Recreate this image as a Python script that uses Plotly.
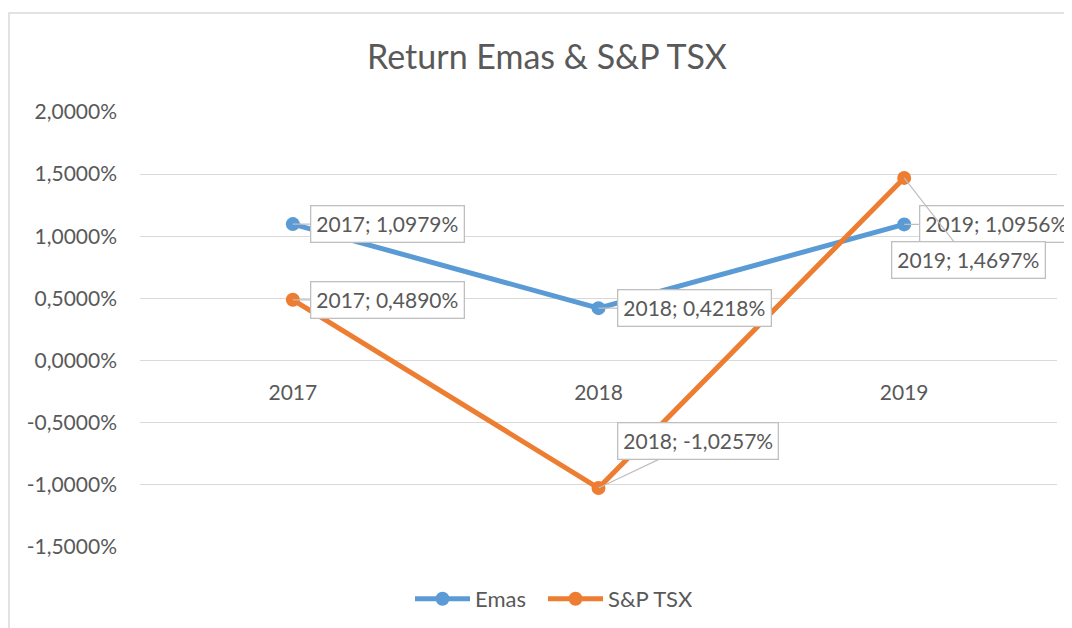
import plotly.graph_objects as go

# ---- data ----
years = ["2017", "2018", "2019"]
emas = [1.0979, 0.4218, 1.0956]
sp_tsx = [0.4890, -1.0257, 1.4697]
series_names = ["Emas", "S&P TSX"]
y_tick_vals = [2.0, 1.5, 1.0, 0.5, 0.0, -0.5, -1.0, -1.5]
y_tick_text = ["2,0000%", "1,5000%", "1,0000%", "0,5000%", "0,0000%", "-0,5000%", "-1,0000%", "-1,5000%"]
title_text = "Return Emas & S&P TSX"

# ---- styles ----
FONT = "Lato"
TXT = "#595959"
GRID = "#D9D9D9"
colors = ["#5B9BD5", "#ED7D31"]
legend_ids = ["legend", "legend2"]
OFF = 8  # page body margin compensation
# label offsets (pixels) of data-label boxes relative to their points
label_offsets = {
    "Emas": [(95, 0), (96, 0), (92, 0)],
    "S&P TSX": [(95, 0), (99, -47), (64, 82)],
}

fig = go.Figure()
for name, vals, col, lg in zip(series_names, [emas, sp_tsx], colors, legend_ids):
    fig.add_trace(go.Scatter(
        x=years, y=vals, name=name, mode="lines+markers",
        line=dict(color=col, width=5),
        marker=dict(color=col, size=14),
        hoverinfo="skip", legend=lg,
    ))

def fmt(v):
    return f"{v:.4f}".replace(".", ",") + "%"

annotations = []
for name, vals in zip(series_names, [emas, sp_tsx]):
    for i, (yr, v) in enumerate(zip(years, vals)):
        ax, ay = label_offsets[name][i]
        annotations.append(dict(
            x=i, y=v, xref="x", yref="y",
            text=f"{yr}; {fmt(v)}",
            showarrow=True, arrowhead=0, arrowwidth=1.2, arrowcolor="#BFBFBF",
            ax=ax, ay=ay, axref="pixel", ayref="pixel", standoff=0,
            bgcolor="white", bordercolor="#BFBFBF", borderwidth=1.3, borderpad=5,
            font=dict(family=FONT, size=21, color=TXT),
        ))

W = 1072 - OFF
H = 628 - OFF
legend_style = dict(orientation="h", xanchor="left",
                    yref="container", y=1 - (599 - OFF) / H, yanchor="middle",
                    font=dict(family=FONT, size=22, color=TXT), itemwidth=55,
                    bgcolor="rgba(0,0,0,0)")
fig.update_layout(
    width=W, height=H,
    margin=dict(l=140 - OFF, r=15, t=112 - OFF, b=81, autoexpand=False),
    paper_bgcolor="white", plot_bgcolor="white",
    title=dict(text=title_text, x=(547 - OFF) / W, xanchor="center", xref="container",
               y=1 - (57 - OFF) / H, yref="container", yanchor="middle",
               font=dict(family=FONT, size=34, color=TXT)),
    showlegend=True,
    legend=dict(x=(410 - 140) / 917, **legend_style),
    legend2=dict(x=(543 - 140) / 917, **legend_style),
    xaxis=dict(type="category", range=[-0.5, 2.5], showgrid=False, zeroline=False,
               showline=False, ticks="", anchor="free", position=1.5 / 3.5,
               ticklabelstandoff=17, automargin=False,
               tickfont=dict(family=FONT, size=21, color=TXT), fixedrange=True),
    yaxis=dict(range=[-1.5, 2.0], tickvals=y_tick_vals, ticktext=y_tick_text,
               showgrid=True, gridcolor=GRID, gridwidth=1.3, zeroline=False,
               showline=False, ticks="", ticklabelstandoff=22, automargin=False,
               tickfont=dict(family=FONT, size=21, color=TXT), fixedrange=True),
    annotations=annotations,
    shapes=[dict(type="rect", xref="paper", yref="paper",
                 x0=(9 - 140) / 917, x1=1.2, y0=-0.5, y1=(547 - 13) / 435,
                 line=dict(color=GRID, width=1.5), fillcolor="rgba(0,0,0,0)", layer="below")],
)

fig.write_html("out.html")
